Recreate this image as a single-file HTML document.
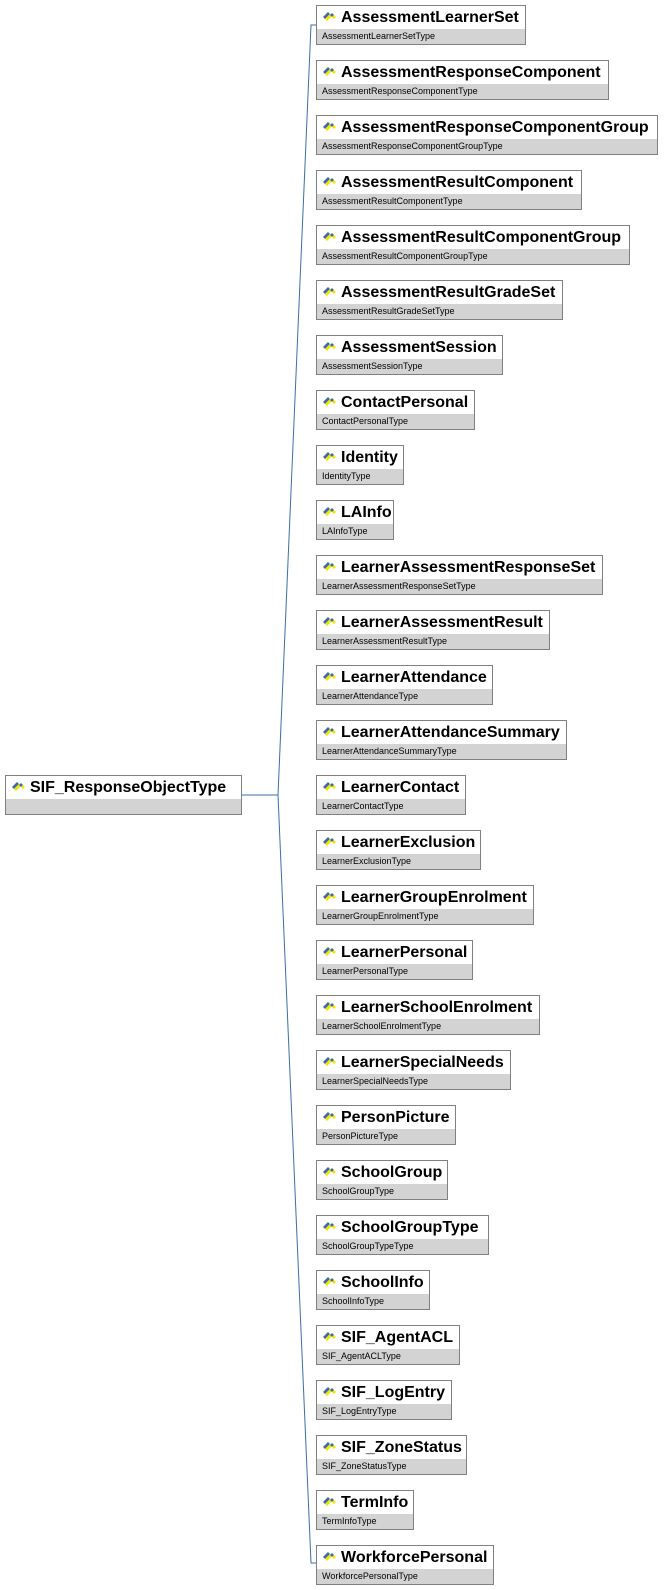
<!DOCTYPE html>
<html><head><meta charset="utf-8"><style>
body{margin:0;width:671px;height:1590px;background:#fff;position:relative;font-family:"Liberation Sans",Arial,sans-serif;overflow:hidden}
.n{position:absolute;height:38px;border:1px solid #808080;background:#fff;box-sizing:content-box}
.h{height:23px;line-height:23px;font-weight:bold;font-size:16px;color:#000;padding-left:24px;white-space:nowrap;position:relative}
.s{height:15px;line-height:15px;background:#d3d3d3;font-size:9px;padding-left:5px;color:#000;white-space:nowrap}
.ic{position:absolute;left:5px;top:5px;width:15px;height:12px}
svg.l{position:absolute;left:0;top:0}
</style></head><body>
<svg class="l" width="671" height="1590">
<polyline points="241,795 278,795" fill="none" stroke="#3b6ea8" stroke-width="1"/>
<polyline points="316,25 311,25 278,795 311,1563 316,1563" fill="none" stroke="#3b6ea8" stroke-width="1"/>
</svg>
<div id="c"></div>
<script>
var items=[["AssessmentLearnerSet",525],["AssessmentResponseComponent",608],["AssessmentResponseComponentGroup",657],["AssessmentResultComponent",581],["AssessmentResultComponentGroup",629],["AssessmentResultGradeSet",562],["AssessmentSession",502],["ContactPersonal",474],["Identity",403],["LAInfo",393],["LearnerAssessmentResponseSet",602],["LearnerAssessmentResult",549],["LearnerAttendance",492],["LearnerAttendanceSummary",566],["LearnerContact",465],["LearnerExclusion",480],["LearnerGroupEnrolment",533],["LearnerPersonal",472],["LearnerSchoolEnrolment",539],["LearnerSpecialNeeds",510],["PersonPicture",455],["SchoolGroup",447],["SchoolGroupType",488],["SchoolInfo",429],["SIF_AgentACL",459],["SIF_LogEntry",451],["SIF_ZoneStatus",466],["TermInfo",413],["WorkforcePersonal",493]];
var icon='<svg class="ic" viewBox="0 0 15 12"><polygon points="1,6 6,1 8,3 3,8" fill="#3a6aa8"/><polygon points="3,8 8,3 10,5 5,10" fill="#f5e400"/><polygon points="8,4 10,2 12,4 10,6" fill="#3a6aa8"/><polygon points="10,6 12,4 14,6 12,8" fill="#f5e400"/></svg>';
var h='';
h+='<div class="n" style="left:5px;top:775px;width:235px">'+'<div class="h">'+icon+'SIF_ResponseObjectType</div><div class="s"></div></div>';
items.forEach(function(it,i){var y=5+i*55;
h+='<div class="n" style="left:316px;top:'+y+'px;width:'+(it[1]-317)+'px"><div class="h">'+icon+it[0]+'</div><div class="s">'+it[0]+'Type</div></div>';});
document.getElementById('c').innerHTML=h;
</script>
</body></html>
